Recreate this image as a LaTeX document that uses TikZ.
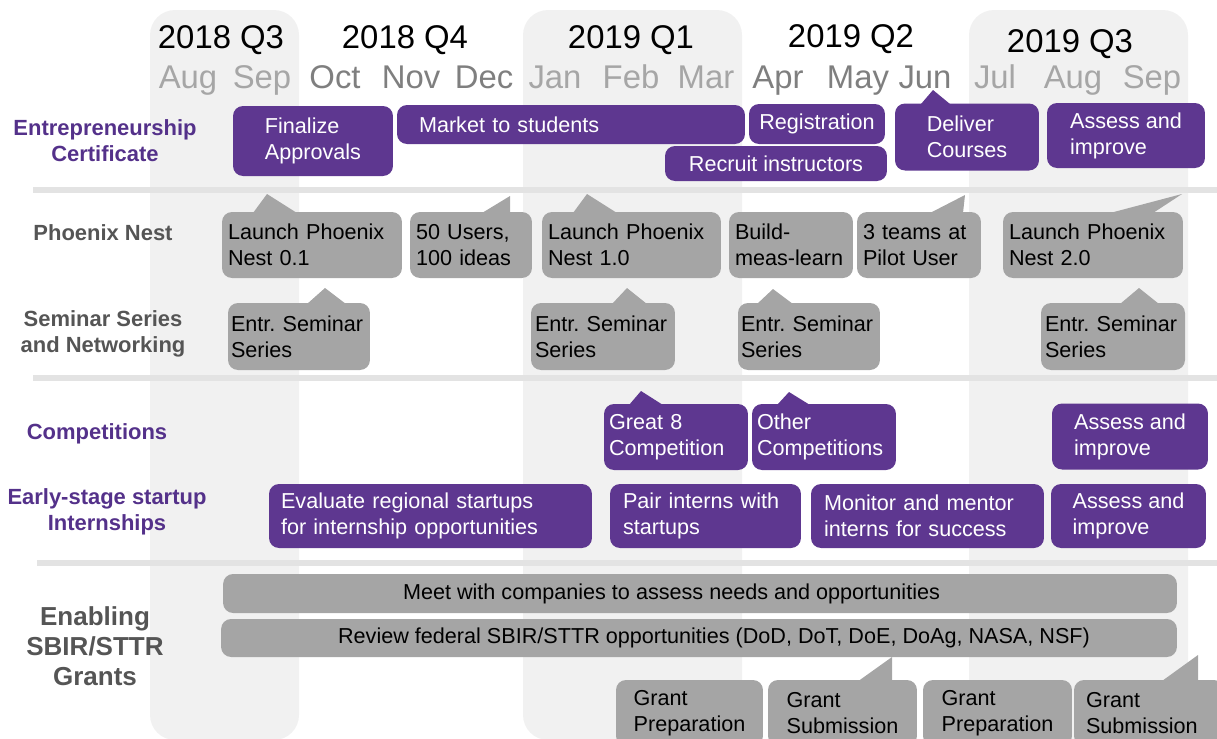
\documentclass[tikz,border=0pt]{standalone}
\usepackage{fontspec}
\setmainfont{Liberation Sans}
\usepackage{tikz}
\definecolor{taskpurple}{HTML}{5E3790}
\definecolor{labelpurple}{HTML}{54318A}
\definecolor{taskgrey}{HTML}{A5A5A5}
\definecolor{labelgrey}{HTML}{555555}
\definecolor{monthgrey}{HTML}{A6A6A6}
\definecolor{monthdark}{HTML}{7F7F7F}
\definecolor{colshade}{HTML}{F1F1F1}
\definecolor{rowline}{HTML}{E3E3E3}
\tikzstyle{column}=[fill=colshade, rounded corners=0.5cm]
\tikzstyle{row line}=[draw=rowline, line width=0.12cm]
\tikzstyle{quarter}=[anchor=base, font=\fontsize{18.7}{22}\selectfont]
\tikzstyle{month}=[anchor=base, text=monthgrey, font=\fontsize{18.7}{22}\selectfont]
\tikzstyle{month dark}=[month, text=monthdark]
\tikzstyle{row label}=[align=center, font=\bfseries\fontsize{12.5}{14.7}\selectfont]
\tikzstyle{purple task}=[rounded corners=0.2cm, fill=taskpurple, text=white, align=left, inner xsep=0.1cm, inner ysep=0pt, minimum height=1.32cm, font=\fontsize{12.3}{14.8}\selectfont]
\tikzstyle{grey task}=[purple task, fill=taskgrey, text=black, inner xsep=0.12cm]
\tikzstyle{purple tip}=[fill=taskpurple]
\tikzstyle{grey tip}=[fill=taskgrey]

\begin{document}
\frenchspacing
\begin{tikzpicture}[x=0.02cm, y=-0.02cm]
\useasboundingbox (0,0) rectangle (1217,738);
\clip (0,0) rectangle (1217,738);

\fill[column] (150,10) rectangle (299,740);
\fill[column] (523,10) rectangle (742,740);
\fill[column] (969,10) rectangle (1188,740);

\draw[row line] (33,190) -- (1217,190);
\draw[row line] (33,378) -- (1217,378);
\draw[row line] (37,563) -- (1217,563);

\node[quarter] (q1) at (221,48) {2018 Q3};
\node[quarter] (q2) at (405,48) {2018 Q4};
\node[quarter] (q3) at (631,48) {2019 Q1};
\node[quarter] (q4) at (851,47) {2019 Q2};
\node[quarter] (q5) at (1070,52) {2019 Q3};

\node[month]      (m1)  at (188,88)  {Aug};
\node[month]      (m2)  at (262,88)  {Sep};
\node[month dark] (m3)  at (335,88)  {Oct};
\node[month dark] (m4)  at (411,88)  {Nov};
\node[month dark] (m5)  at (484,88)  {Dec};
\node[month]      (m6)  at (555,88)  {Jan};
\node[month]      (m7)  at (631,88)  {Feb};
\node[month]      (m8)  at (706,88)  {Mar};
\node[month dark] (m9)  at (778,88)  {Apr};
\node[month dark] (m10) at (858,88)  {May};
\node[month dark] (m11) at (925,88)  {Jun};
\node[month]      (m12) at (995,88)  {Jul};
\node[month]      (m13) at (1073,88) {Aug};
\node[month]      (m14) at (1152,88) {Sep};

\node[row label, text=labelpurple] (l1) at (105,141) {Entrepreneurship\\Certificate};
\node[row label, text=labelgrey]   (l2) at (103,233) {Phoenix Nest};
\node[row label, text=labelgrey]   (l3) at (103,334) {Seminar Series\\and Networking};
\node[row label, text=labelpurple] (l4) at (97,434)  {Competitions};
\node[row label, text=labelpurple] (l5) at (107,512) {Early-stage startup\\Internships};
\node[row label, text=labelgrey, font=\bfseries\fontsize{14.8}{17}\selectfont] (l6) at (95,646) {Enabling\\SBIR/STTR\\Grants};

\node[purple task, minimum width=3.2cm, minimum height=1.4cm] (c1) at (313,141) {Finalize\\Approvals};
\node[purple task, text width=6.08cm, inner xsep=0.44cm, minimum height=0.78cm] (c2) at (571,124.5) {Market to students};
\node[purple task, minimum width=2.72cm, minimum height=0.8cm] (c3) at (817,124) {Registration};
\node[purple task, minimum width=4.44cm, minimum height=0.7cm] (c4) at (776,163.5) {Recruit instructors};
\node[purple task, minimum width=2.88cm, minimum height=1.34cm] (c5) at (967,137) {Deliver\\Courses};
\node[purple task, minimum width=3.16cm, minimum height=1.3cm] (c6) at (1126,135.5) {Assess and\\improve};
\fill[purple tip] (921,104) -- (933,90) -- (950,104) -- cycle;

\node[grey task, text width=3.36cm] (p1) at (312,245)   {Launch Phoenix\\Nest 0.1};
\node[grey task, text width=2.2cm]  (p2) at (471,245)   {50 Users,\\100 ideas};
\node[grey task, text width=3.34cm] (p3) at (631.5,245) {Launch Phoenix\\Nest 1.0};
\node[grey task, text width=2.24cm] (p4) at (791,245)   {Build-\\meas-learn};
\node[grey task, text width=2.24cm] (p5) at (919,245)   {3 teams at\\Pilot User};
\node[grey task, text width=3.36cm] (p6) at (1093,245)  {Launch Phoenix\\Nest 2.0};
\fill[grey tip] (253,213) -- (267,194) -- (297,213) -- cycle;
\fill[grey tip] (482,213) -- (510,196) -- (510,213) -- cycle;
\fill[grey tip] (573,213) -- (587,194) -- (617,213) -- cycle;
\fill[grey tip] (930,213) -- (965,195) -- (963,213) -- cycle;
\fill[grey tip] (1110,213) -- (1182,194) -- (1153,213) -- cycle;

\node[grey task, text width=2.72cm, inner xsep=0.06cm, minimum height=1.34cm] (s1) at (299,336.5)  {Entr. Seminar\\Series};
\node[grey task, text width=2.72cm, inner xsep=0.08cm, minimum height=1.34cm] (s2) at (603,336.5)  {Entr. Seminar\\Series};
\node[grey task, text width=2.72cm, inner xsep=0.06cm, minimum height=1.34cm] (s3) at (809,336.5)  {Entr. Seminar\\Series};
\node[grey task, text width=2.72cm, inner xsep=0.08cm, minimum height=1.34cm] (s4) at (1113,336.5) {Entr. Seminar\\Series};
\fill[grey tip] (307,304) -- (325,288) -- (346,304) -- cycle;
\fill[grey tip] (612,304) -- (627,288) -- (647,304) -- cycle;
\fill[grey tip] (757,304) -- (773,289) -- (793,304) -- cycle;
\fill[grey tip] (1120,304) -- (1139,288) -- (1159,304) -- cycle;

\node[purple task, text width=2.68cm] (k1) at (676,437)    {Great 8\\Competition};
\node[purple task, text width=2.68cm] (k2) at (824,437)    {Other\\Competitions};
\node[purple task, minimum width=3.12cm] (k3) at (1130,436.5) {Assess and\\improve};
\fill[purple tip] (629,405) -- (641,391) -- (663,405) -- cycle;
\fill[purple tip] (777,405) -- (789,392) -- (810,405) -- cycle;

\node[purple task, text width=5.98cm, inner xsep=0.24cm, minimum height=1.28cm] (i1) at (430.5,516) {Evaluate regional startups\\for internship opportunities};
\node[purple task, text width=3.3cm, inner xsep=0.26cm, minimum height=1.28cm] (i2) at (705.5,516) {Pair interns with\\startups};
\node[purple task, text width=4.14cm, inner xsep=0.26cm, minimum height=1.28cm] (i3) at (927.5,516) {Monitor and mentor\\interns for success};
\node[purple task, minimum width=3.1cm, minimum height=1.28cm] (i4) at (1128.5,516) {Assess and\\improve};

\node[grey task, minimum width=19.08cm, minimum height=0.78cm] (g1) at (700,593.5) {Meet with companies to assess needs and opportunities\hspace*{1.14cm}};
\node[grey task, minimum width=19.12cm, minimum height=0.76cm] (g2) at (699,638) {\hspace*{0.6cm}Review federal SBIR/STTR opportunities (DoD, DoT, DoE, DoAg, NASA, NSF)};
\node[grey task, minimum width=2.94cm] (g3) at (689.5,713) {Grant\\Preparation};
\node[grey task, minimum width=2.98cm] (g4) at (842.5,713) {Grant\\Submission};
\node[grey task, minimum width=2.98cm] (g5) at (997.5,713) {Grant\\Preparation};
\node[grey task, text width=2.52cm, inner xsep=0.24cm] (g6) at (1149,713) {Grant\\Submission};
\fill[grey tip] (857,682) -- (892,657) -- (892,682) -- cycle;
\fill[grey tip] (1162,681) -- (1198,655) -- (1198,681) -- cycle;
\end{tikzpicture}
\end{document}
